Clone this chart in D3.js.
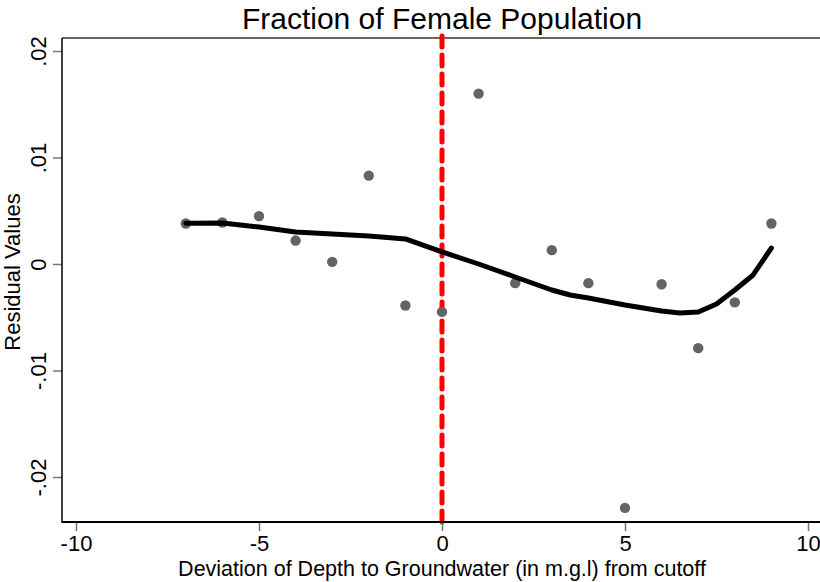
<!DOCTYPE html>
<html>
<head>
<meta charset="utf-8">
<script src="https://cdn.jsdelivr.net/npm/d3@7"></script>
<style>
  body { margin: 0; background: #fff; }
  text { font-family: 'Liberation Sans', Arial, sans-serif; }
</style>
</head>
<body>
<div id="chart"></div>
<script>
// binned residuals (deviation, residual)
const binX = [-7, -6, -5, -4, -3, -2, -1, 0, 1, 2, 3, 4, 5, 6, 7, 8, 9]
const binY = [0.0038, 0.0039, 0.0045, 0.0022, 0.0002, 0.0083, -0.0039, -0.0045,
  0.016, -0.0018, 0.0013, -0.0018, -0.0229, -0.0019, -0.0079, -0.0036, 0.0038]

// smoothed fit
const fitX = [-7, -6, -5, -4, -3, -2, -1, 0, 1, 2, 3, 3.5, 4, 5, 6, 6.5, 7, 7.5, 8, 8.5, 9]
const fitY = [0.00382, 0.00385, 0.00347, 0.003, 0.00282, 0.00263, 0.00235, 0.00113,
  0.0, -0.00122, -0.00244, -0.00291, -0.00319, -0.00385, -0.00441, -0.0046,
  -0.00451, -0.00376, -0.00244, -0.00103, 0.0015]

const xTicks = [-10, -5, 0, 5, 10]
const xTickLabels = ['-10', '-5', '0', '5', '10']
const yTicks = [-0.02, -0.01, 0, 0.01, 0.02]
const yTickLabels = ['-.02', '-.01', '0', '.01', '.02']
const cutoff = 0

const width = 820
const height = 582
const plot = { left: 62, right: 820, top: 38, bottom: 522 }

const svg = d3.select('#chart').append('svg')
  .attr('width', width).attr('height', height)

const xScale = d3.scaleLinear().domain([-10, 10]).range([76, 808])
const yScale = d3.scaleLinear().domain([-0.02, 0.02]).range([477, 51])

// frame
svg.append('line')
  .attr('x1', plot.left).attr('x2', plot.right)
  .attr('y1', plot.top).attr('y2', plot.top)
  .attr('stroke', '#666').attr('stroke-width', 2)

// red cutoff line
svg.append('line')
  .attr('x1', xScale(cutoff)).attr('x2', xScale(cutoff))
  .attr('y1', 36).attr('y2', plot.bottom)
  .attr('stroke', '#ff0000').attr('stroke-width', 5)
  .attr('stroke-linecap', 'round')
  .attr('stroke-dasharray', '11 8')

// points
svg.append('g')
  .selectAll('circle')
  .data(binX.map((x, i) => [x, binY[i]]))
  .join('circle')
  .attr('cx', d => xScale(d[0]))
  .attr('cy', d => yScale(d[1]))
  .attr('r', 5.2)
  .attr('fill', '#646464')

// fit line
const line = d3.line().x(d => xScale(d[0])).y(d => yScale(d[1]))
svg.append('path')
  .datum(fitX.map((x, i) => [x, fitY[i]]))
  .attr('d', line)
  .attr('fill', 'none')
  .attr('stroke', '#000')
  .attr('stroke-width', 5)
  .attr('stroke-linejoin', 'round')
  .attr('stroke-linecap', 'round')

// axes
const xAxis = svg.append('g')
  .attr('transform', `translate(0, ${plot.bottom})`)
  .call(d3.axisBottom(xScale).tickValues(xTicks).tickSize(9).tickPadding(4)
    .tickFormat((d, i) => xTickLabels[i]))
xAxis.select('.domain').remove()
xAxis.selectAll('.tick line').attr('stroke', '#777').attr('stroke-width', 1.5)
xAxis.selectAll('.tick text').attr('font-size', 22).attr('fill', '#000')
  .attr('font-family', "'Liberation Sans', Arial, sans-serif")

const yAxis = svg.append('g')
  .attr('transform', `translate(${plot.left}, 0)`)
  .call(d3.axisLeft(yScale).tickValues(yTicks).tickSize(9)
    .tickFormat((d, i) => yTickLabels[i]))
yAxis.select('.domain').remove()
yAxis.selectAll('.tick line').attr('stroke', '#777').attr('stroke-width', 1.5)
yAxis.selectAll('.tick text')
  .attr('font-size', 22).attr('fill', '#000')
  .attr('font-family', "'Liberation Sans', Arial, sans-serif")
  .attr('x', null).attr('dy', null)
  .attr('text-anchor', 'middle')
  .attr('transform', 'translate(-16, 0) rotate(-90)')

svg.append('line')
  .attr('x1', plot.left).attr('x2', plot.left)
  .attr('y1', plot.top).attr('y2', plot.bottom + 1)
  .attr('stroke', '#000').attr('stroke-width', 1.5)
svg.append('line')
  .attr('x1', plot.left).attr('x2', plot.right)
  .attr('y1', plot.bottom).attr('y2', plot.bottom)
  .attr('stroke', '#000').attr('stroke-width', 2)

// titles
svg.append('text')
  .attr('x', 442).attr('y', 29)
  .attr('text-anchor', 'middle')
  .attr('font-size', 30)
  .text('Fraction of Female Population')

svg.append('text')
  .attr('x', 442).attr('y', 576)
  .attr('text-anchor', 'middle')
  .attr('font-size', 21.5)
  .text('Deviation of Depth to Groundwater (in m.g.l) from cutoff')

svg.append('text')
  .attr('transform', 'translate(20, 272) rotate(-90)')
  .attr('text-anchor', 'middle')
  .attr('font-size', 22)
  .text('Residual Values')
</script>
</body>
</html>
